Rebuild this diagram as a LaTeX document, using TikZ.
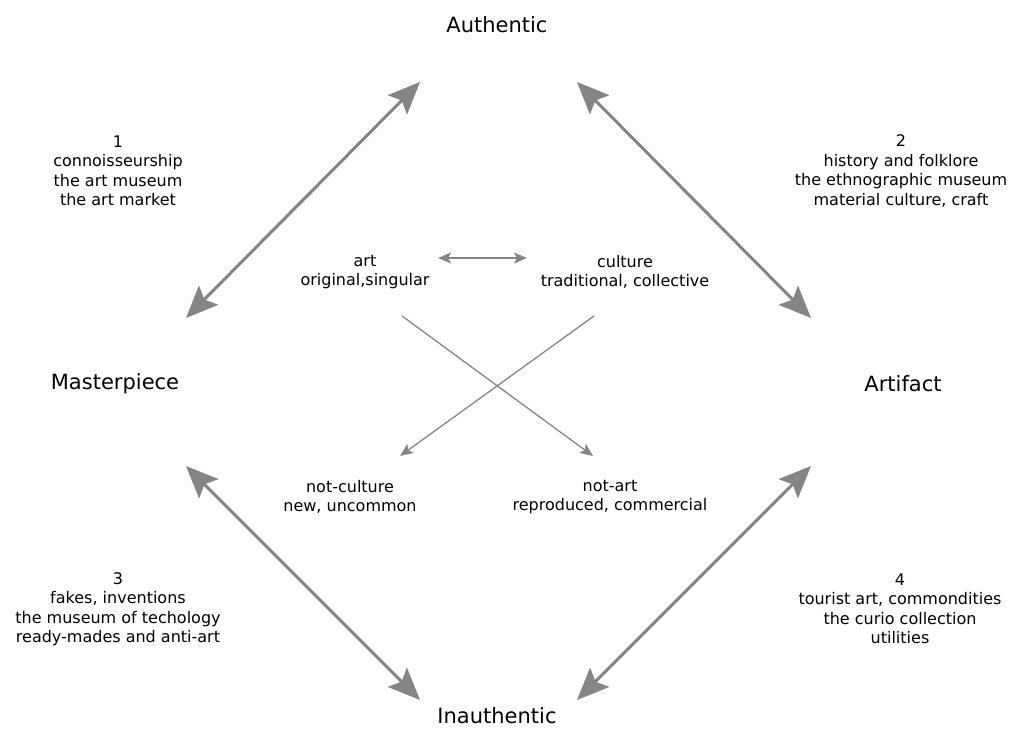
\documentclass[tikz,border=0pt]{standalone}
\usepackage{fontspec}
\setmainfont{DejaVu Sans}
\usetikzlibrary{arrows.meta}
\definecolor{arrowgray}{HTML}{858585}
\tikzset{
  pole/.style={font=\fontsize{21}{25}\selectfont, text=black, inner sep=1pt},
  note/.style={font=\fontsize{16}{19.5}\selectfont, align=center, text=black},
  bigarrow/.style={draw=arrowgray, line width=3pt,
    {Stealth[length=32pt,width=27pt,inset=6pt]}-{Stealth[length=32pt,width=27pt,inset=6pt]}},
  thinarrow/.style={draw=arrowgray, line width=1.3pt,
    -{Stealth[length=13pt,width=11pt,inset=3pt]}},
  thindouble/.style={draw=arrowgray, line width=1.3pt,
    {Stealth[length=13pt,width=11pt,inset=3pt]}-{Stealth[length=13pt,width=11pt,inset=3pt]}}
}
\begin{document}
\begin{tikzpicture}[x=1pt,y=-1pt]
\useasboundingbox (0,0) rectangle (1017,731);

% the four poles
\node[pole] (auth) at (497,25) {Authentic};
\node[pole] (master) at (115,384) {Masterpiece};
\node[pole] (artifact) at (903,384) {Artifact};
\node[pole] (inauth) at (497,716) {Inauthentic};

% arrow end points around the diamond
\coordinate (tlA) at (420,82);
\coordinate (tlM) at (186,318);
\coordinate (trA) at (577,82);
\coordinate (trF) at (811,318);
\coordinate (blM) at (186,466);
\coordinate (blI) at (420,700);
\coordinate (brI) at (577,700);
\coordinate (brF) at (811,466);

\draw[bigarrow] (tlM) -- (tlA);
\draw[bigarrow] (trA) -- (trF);
\draw[bigarrow] (blM) -- (blI);
\draw[bigarrow] (brI) -- (brF);

% quadrant notes
\node[note] (q1) at (118,171) {1\\connoisseurship\\the art museum\\the art market};
\node[note] (q2) at (901,171) {2\\history and folklore\\the ethnographic museum\\material culture, craft};
\node[note] (q3) at (118,609) {3\\fakes, inventions\\the museum of techology\\ready-mades and anti-art};
\node[note] (q4) at (900,609) {4\\tourist art, commondities\\the curio collection\\utilities};

% inner square of categories
\node[note] (art) at (365,272) {art\\original,singular};
\node[note] (culture) at (625,272) {culture\\traditional, collective};
\node[note] (notculture) at (350,497) {not-culture\\new, uncommon};
\node[note] (notart) at (610,497) {not-art\\reproduced, commercial};

\coordinate (dl) at (438,258);
\coordinate (dr) at (527,258);
\draw[thindouble] (dl) -- (dr);

\coordinate (x1s) at (402,316);
\coordinate (x1e) at (593,456);
\coordinate (x2s) at (594,316);
\coordinate (x2e) at (400,456);
\draw[thinarrow] (x1s) -- (x1e);
\draw[thinarrow] (x2s) -- (x2e);
\end{tikzpicture}
\end{document}
